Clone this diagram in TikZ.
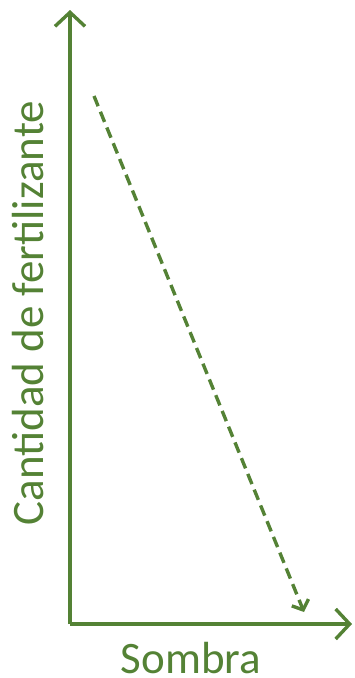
\documentclass[tikz,border=0pt]{standalone}
\usepackage{fontspec}
\setmainfont{Carlito}
\usetikzlibrary{arrows.meta}
\definecolor{ogreen}{HTML}{548235}
\begin{document}
\begin{tikzpicture}[x=1pt,y=-1pt,
  axis/.style={draw=ogreen,line width=3.4pt,-{Straight Barb[length=14pt,width=30pt,line width=3.4pt]}},
  trend/.style={draw=ogreen,line width=3.4pt,dash pattern=on 11pt off 6pt,-{Straight Barb[length=8pt,width=18pt,line width=3.4pt]}},
  lbl/.style={text=ogreen,font=\fontsize{45}{50}\selectfont,inner sep=0pt}]
\useasboundingbox (0,0) rectangle (354,678);
\coordinate (o) at (70,624);
\coordinate (ytop) at (70,10);
\coordinate (xend) at (352,624);
\coordinate (ds) at (94,96);
\coordinate (de) at (304,612);
\draw[axis] (o) -- (ytop);
\draw[axis] (o) -- (xend);
\draw[trend] (ds) -- (de);
\node[lbl,anchor=base] (xl) at (191,673) {Sombra};
\node[lbl,anchor=base,rotate=90] (yl) at (43,313) {Cantidad de fertilizante};
\end{tikzpicture}
\end{document}
